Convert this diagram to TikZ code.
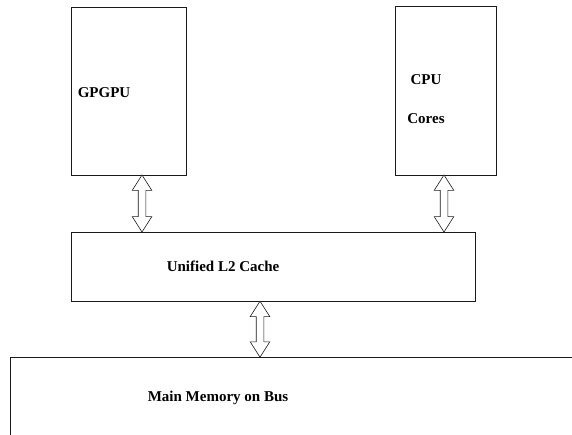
\documentclass[tikz,border=0pt]{standalone}
\usepackage{fontspec}
\setmainfont{Liberation Serif}
\usetikzlibrary{calc, positioning, shapes.arrows}
\definecolor{color_line}{HTML}{1A1A1A}
\tikzset{
  unit_box/.style={draw=color_line, line width=0.8pt, fill=white, inner sep=0pt},
  unit_label/.style={font=\fontsize{15}{18}\selectfont\bfseries, text=black, inner sep=0pt},
  bus_arrow/.style={double arrow, draw=color_line, line width=0.6pt, fill=white, inner sep=3.5pt,
    double arrow head extend=6pt, double arrow tip angle=65, shape border rotate=90, minimum height=57pt},
}
\begin{document}
\begin{tikzpicture}[x=1pt, y=1pt]
    \clip (0,0) rectangle (572,434);
    \node[unit_box, minimum width=115pt, minimum height=168pt] (gpgpu) at (128.5,343) {};
    \node[unit_box, minimum width=101pt, minimum height=169pt] (cpu) at (445.5,343.5) {};
    \node[unit_box, minimum width=404pt, minimum height=69pt] (l2) at (273,167.5) {};
    % memory box runs off the page at right and bottom
    \node[unit_box, minimum width=600pt, minimum height=120pt, anchor=north west] (mem) at (10,77) {};
    \node[unit_label, anchor=west, right=7pt of gpgpu.west, yshift=-2pt] (gpgpu_text) {GPGPU};
    \node[unit_label] (cpu_text) at ([xshift=-19.5pt, yshift=10.5pt]cpu.center) {CPU};
    \node[unit_label, below=28pt of cpu_text] (cores_text) {Cores};
    \node[unit_label] (l2_text) at ([xshift=-50pt]l2.center) {Unified L2 Cache};
    \node[unit_label] (mem_text) at (218,36) {Main Memory on Bus};
    % links
    \node[bus_arrow] (gpgpu_link) at ($(gpgpu.south)!0.5!(gpgpu.south |- l2.north) + (13.5,0)$) {};
    \node[bus_arrow] (cpu_link) at ($(cpu.south)!0.5!(cpu.south |- l2.north) + (-1.5,0)$) {};
    \node[bus_arrow, minimum height=56pt] (mem_link) at ($(l2.south)!0.5!(l2.south |- mem.north) + (-13,0)$) {};
  \end{tikzpicture}
\end{document}
